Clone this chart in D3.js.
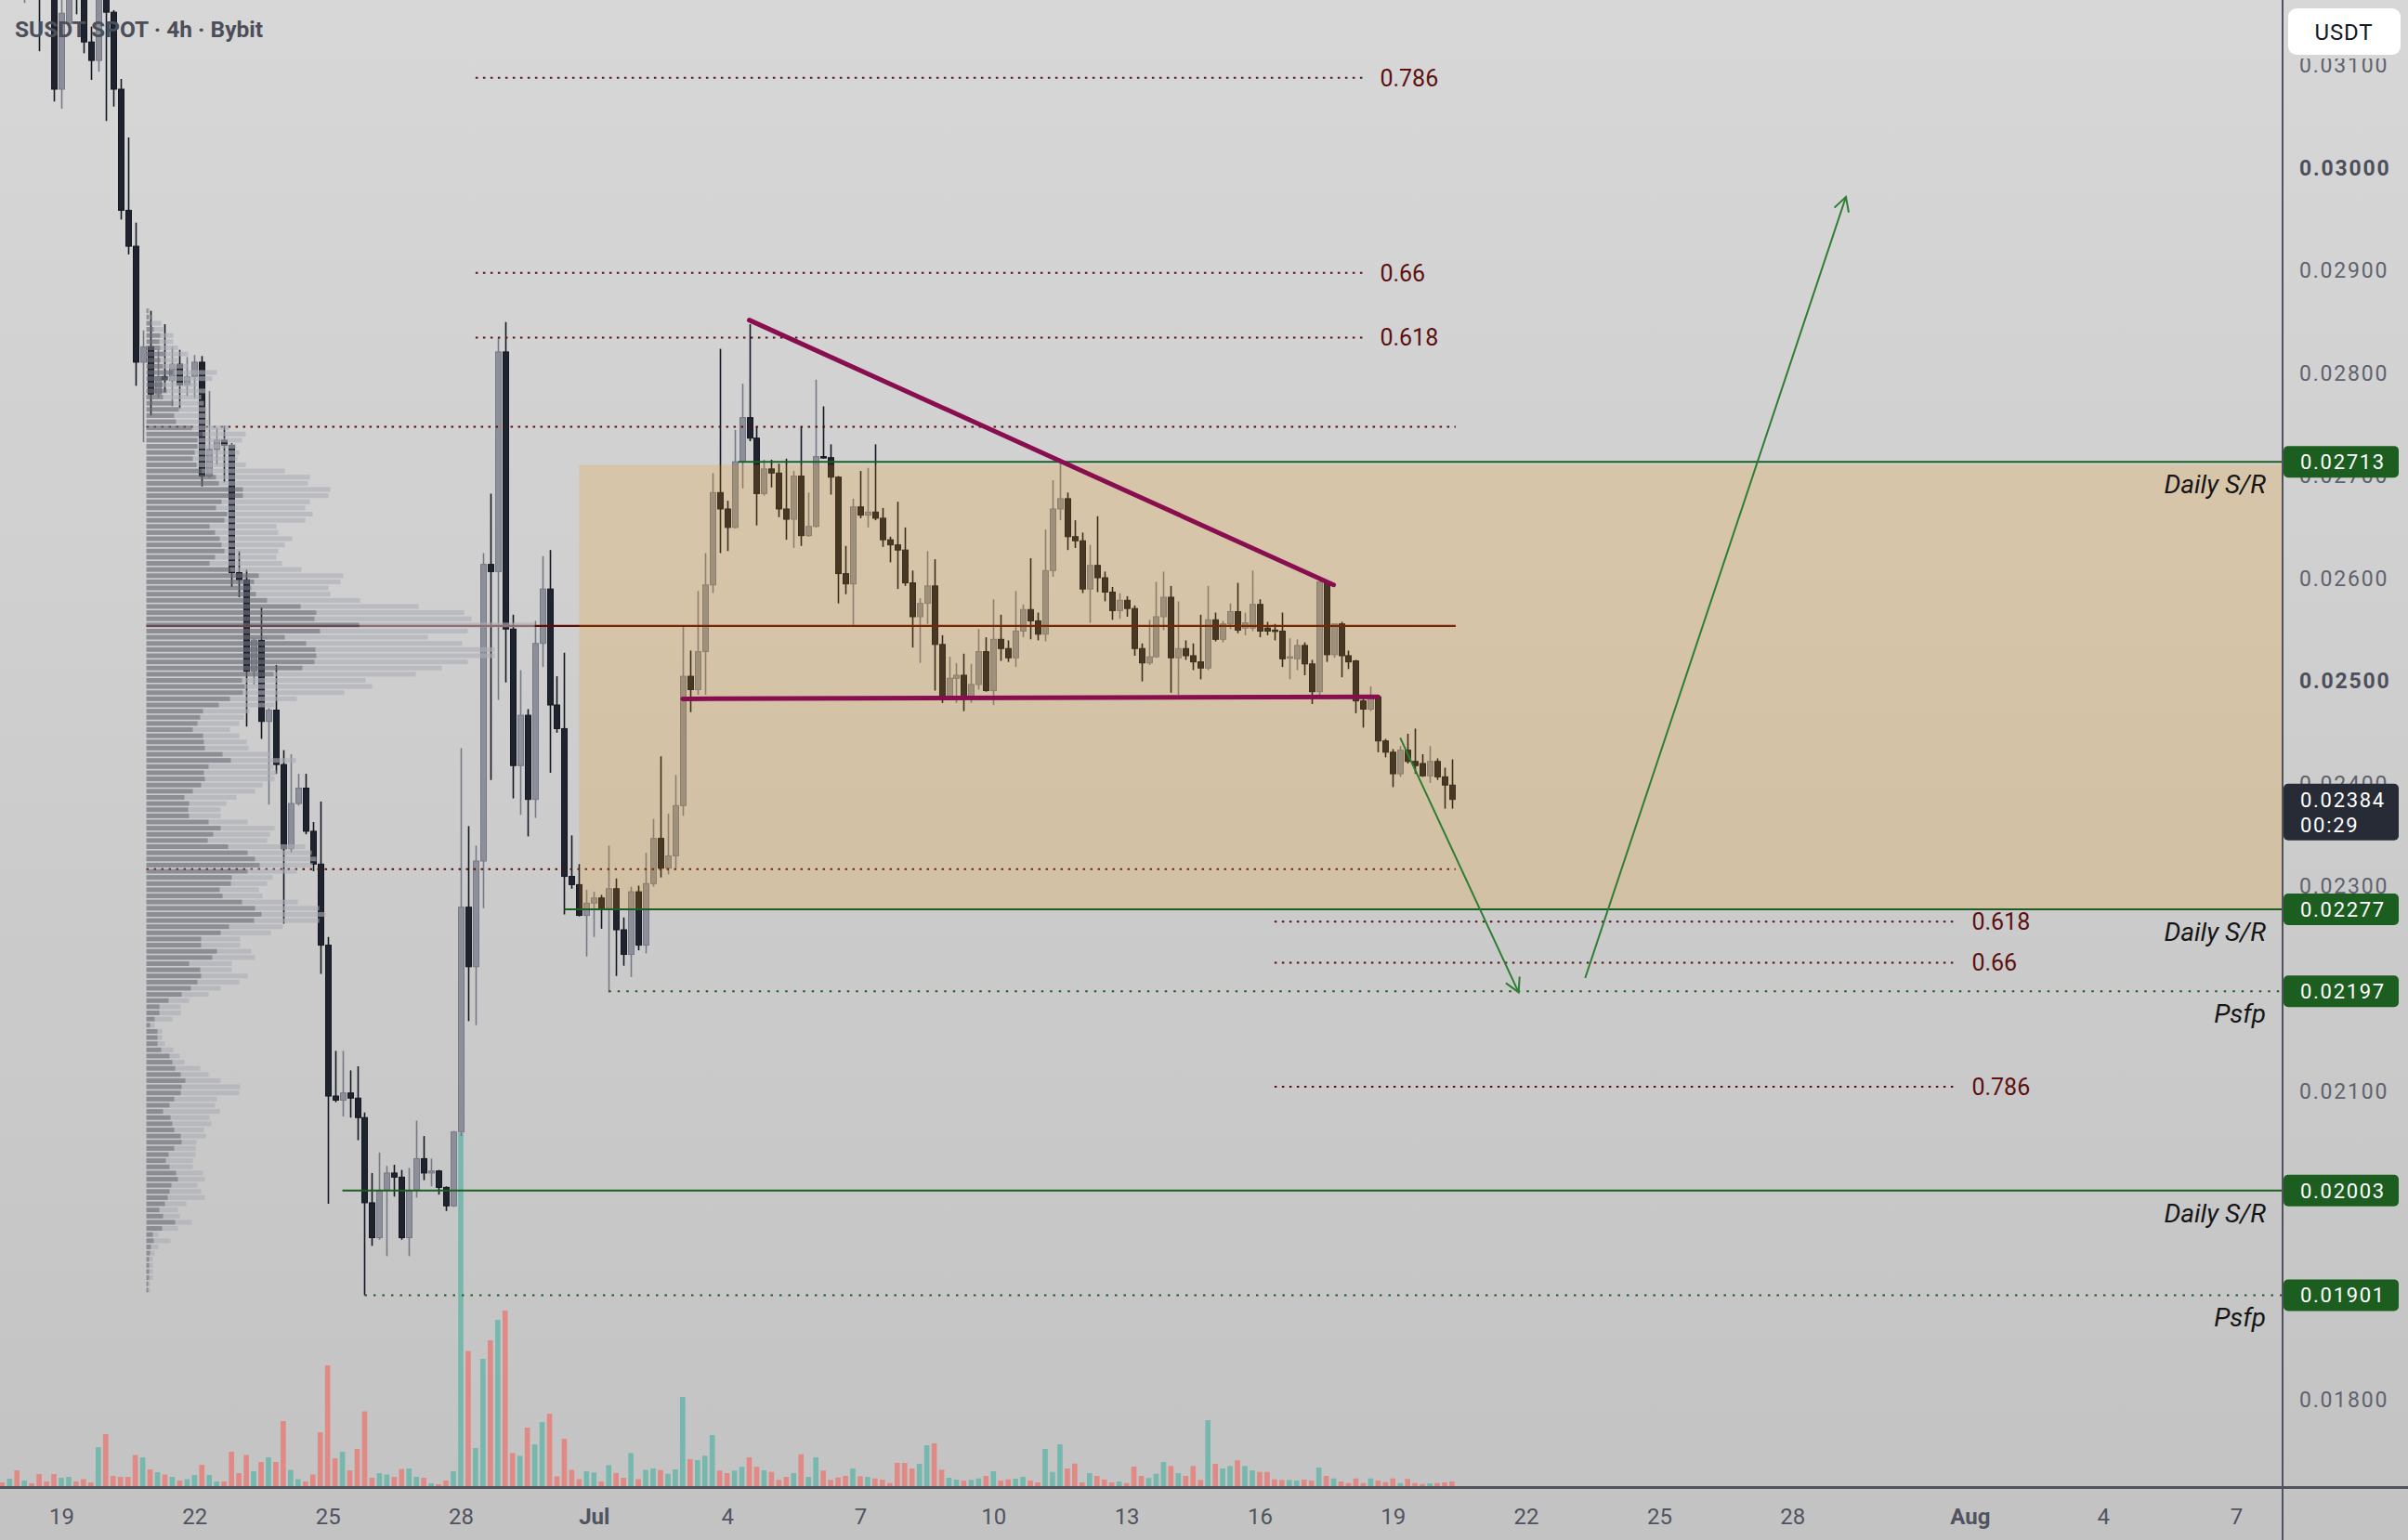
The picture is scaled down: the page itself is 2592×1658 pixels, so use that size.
<!DOCTYPE html>
<html>
<head>
<meta charset="utf-8">
<title>SUSDT SPOT · 4h · Bybit</title>
<script src="https://cdn.jsdelivr.net/npm/d3@7/dist/d3.min.js"></script>
<style>
  html, body { margin: 0; padding: 0; background: #cfcfcf; overflow: hidden; }
  svg { display: block; font-family: Roboto, "DejaVu Sans", sans-serif; }
</style>
</head>
<body>
<div id="chart"></div>
<script>
// ---------------- data ----------------
const firstBar = Date.UTC(2025, 5, 17, 16);   // first 4h bar (above the visible range)
const barMs = 4 * 3600 * 1000;

// open, high, low, close in 0.00001 USDT
const candles = [
  [3300,3310,3250,3265],[3265,3290,3255,3280],[3280,3285,3170,3180],
  [3180,3230,3160,3215],[3215,3240,3185,3195],[3195,3205,3113,3180],[3180,3190,3170,3172],
  [3172,3185,3064,3076],[3076,3170,3057,3150],[3140,3195,3136,3180],[3180,3190,3149,3168],
  [3168,3175,3111,3122],[3122,3137,3085,3104],[3104,3172,3093,3165],[3165,3168,3045,3151],
  [3151,3153,3059,3076],[3076,3086,2949,2958],[2958,3029,2915,2923],[2923,2946,2787,2810],
  [2810,2841,2732,2825],[2825,2860,2758,2779],[2779,2822,2775,2796],[2796,2847,2781,2793],
  [2792,2825,2767,2808],[2808,2822,2765,2788],[2788,2815,2777,2796],[2796,2817,2775,2810],
  [2810,2816,2689,2699],[2699,2782,2697,2725],[2725,2746,2710,2734],[2734,2748,2693,2729],
  [2729,2731,2591,2605],[2605,2626,2581,2598],[2598,2608,2455,2509],[2509,2541,2496,2539],
  [2539,2571,2443,2460],[2460,2473,2379,2471],[2471,2515,2409,2418],[2418,2432,2263,2336],
  [2336,2428,2332,2380],[2380,2409,2378,2395],[2395,2409,2350,2353],[2353,2362,2314,2321],
  [2321,2382,2214,2242],[2242,2250,1990,2095],[2095,2139,2089,2091],[2091,2139,2075,2098],
  [2098,2120,2074,2093],[2093,2124,2052,2074],[2074,2079,1901,1991],[1991,2020,1949,1957],
  [1957,2040,1955,2003],[2003,2027,1939,2020],[2020,2028,1997,2016],[2016,2023,1955,1957],
  [1957,2025,1939,2003],[2003,2071,1996,2034],[2034,2056,2013,2020],[2020,2034,2007,2022],
  [2022,2023,1999,2006],[2006,2007,1983,1988],[1988,2061,1987,2060],[2060,2434,2056,2279],
  [2279,2358,2168,2221],[2221,2339,2164,2324],[2324,2624,2278,2613],[2613,2682,2403,2606],
  [2606,2834,2481,2820],[2820,2849,2498,2550],[2550,2564,2385,2417],[2417,2510,2369,2466],
  [2466,2472,2348,2384],[2384,2558,2366,2536],[2536,2621,2513,2589],[2589,2627,2410,2476],
  [2476,2504,2449,2453],[2453,2527,2272,2309],[2309,2349,2297,2301],[2301,2321,2270,2271],
  [2271,2296,2231,2283],[2283,2294,2250,2288],[2288,2291,2258,2278],[2278,2339,2196,2297],
  [2297,2307,2212,2257],[2257,2269,2222,2233],[2233,2299,2211,2294],[2294,2300,2237,2242],
  [2242,2332,2234,2302],[2302,2365,2299,2346],[2346,2426,2308,2317],[2317,2370,2311,2329],
  [2329,2408,2317,2378],[2378,2552,2368,2504],[2504,2529,2469,2491],[2491,2587,2486,2528],
  [2528,2624,2486,2593],[2593,2702,2585,2683],[2683,2823,2624,2667],[2667,2675,2626,2649],
  [2649,2744,2648,2713],[2713,2789,2687,2756],[2756,2847,2733,2736],[2736,2747,2651,2682],
  [2682,2715,2680,2706],[2706,2715,2688,2702],[2702,2711,2659,2667],[2667,2716,2637,2657],
  [2657,2704,2629,2699],[2699,2747,2631,2641],[2641,2683,2640,2650],[2650,2793,2649,2718],
  [2718,2767,2716,2717],[2717,2730,2681,2698],[2698,2699,2575,2604],[2604,2631,2584,2594],
  [2594,2677,2554,2669],[2669,2704,2658,2661],[2661,2707,2649,2664],[2664,2730,2656,2658],
  [2658,2668,2630,2637],[2637,2640,2615,2632],[2632,2674,2589,2627],[2627,2649,2592,2595],
  [2595,2607,2532,2562],[2562,2580,2517,2575],[2575,2626,2555,2592],[2592,2618,2490,2535],
  [2535,2544,2478,2485],[2485,2523,2482,2502],[2502,2517,2478,2505],[2505,2526,2470,2483],
  [2483,2516,2478,2496],[2496,2550,2491,2528],[2528,2542,2489,2490],[2490,2579,2476,2540],
  [2540,2564,2519,2531],[2531,2539,2518,2522],[2522,2587,2513,2548],[2548,2574,2542,2569],
  [2569,2619,2540,2558],[2558,2566,2539,2545],[2545,2647,2538,2607],[2607,2695,2601,2667],
  [2667,2714,2656,2677],[2677,2683,2627,2640],[2640,2656,2629,2636],[2636,2644,2585,2589],
  [2589,2632,2556,2612],[2612,2660,2586,2600],[2600,2606,2577,2586],[2586,2591,2559,2568],
  [2568,2585,2560,2578],[2578,2582,2562,2570],[2570,2573,2524,2531],[2531,2536,2499,2517],
  [2517,2559,2515,2523],[2523,2596,2522,2562],[2562,2606,2549,2581],[2581,2592,2488,2522],
  [2522,2577,2486,2531],[2531,2539,2520,2524],[2524,2536,2510,2518],[2518,2564,2501,2512],
  [2512,2592,2510,2559],[2559,2566,2538,2540],[2540,2558,2537,2555],[2555,2575,2550,2567],
  [2567,2595,2546,2549],[2551,2566,2544,2556],[2551,2607,2548,2574],[2574,2579,2542,2548],
  [2551,2557,2544,2548],[2549,2555,2539,2548],[2548,2566,2513,2521],[2522,2541,2501,2523],
  [2521,2540,2510,2534],[2534,2537,2505,2516],[2516,2520,2477,2489],[2489,2597,2486,2596],
  [2596,2597,2518,2525],[2525,2555,2522,2555],[2555,2557,2503,2524],[2524,2529,2511,2518],
  [2519,2520,2468,2480],[2480,2485,2454,2472],[2472,2494,2470,2484],[2484,2485,2430,2441],
  [2441,2443,2425,2430],[2430,2433,2396,2409],[2409,2436,2406,2432],[2432,2448,2419,2421],
  [2421,2453,2409,2417],[2419,2428,2406,2407],[2407,2436,2400,2421],[2421,2424,2403,2406],
  [2406,2415,2375,2398],[2398,2423,2375,2384]
];

// volume per bar (relative units)
const volumes = [
  5,9,18,7,4,14,6,14,10,11,6,8.5,5,43,57,12,11,11,34.5,32,19,16,13.5,11,7,8.5,13,24,13,6,
  6,38,15,34.5,17,27,32,27,71,18.5,8.5,6,13.5,59,131,31,38,18,41,81.5,10,15,13.5,11,19.4,20,11,10,4,3,
  7,17,381,146.5,42,138,158,180,190,36.6,33.6,64,46,70,79,11.5,52,18.5,8.5,16.9,15.7,6,23.6,15.2,10,36.6,8.5,18.5,
  20,18.3,14.3,19,97,30,29,33.7,56,17.7,15,17.7,21.7,32,21.7,18,16.3,7.7,11,15,
  35.3,11,32,17.7,7.7,10.3,12,20,11.7,11,9.3,8,4.3,26,26,20,25,45,47,18.7,
  10,8,7,7.7,9.3,12,17,7,8.3,9,11,7,5,41,16.3,46,20,25.3,5,15,
  12,8,5,6,4.3,22,12,9.7,14.3,27,22.7,15,12,22.7,7.7,72,25,20,22.7,28.7,
  22.7,18,16.3,16.3,8.3,7.7,7.7,7,8,7,21,12,9.3,6,4.3,9.3,4.3,9.3,7,5.3,
  9.3,4.3,8.7,4.3,3.3,4,4.3,5,6
];

// visible-range volume profile, rows from top price downward
const profileTop = 0.02860;
const profileStep = 0.00006;
const profileStart = Date.UTC(2025, 5, 20, 22);
const profileTotal = [
  4,5,16,19,29,29,34,45,34,45, 76,71,55,64,59,62,65,65,67,89,
  107,103,97,100,98,107,149,176,174,198, 196,176,171,179,171,140,142,157,149,142,
  140,146,167,212,209,196,198,230,293,342, 350,418,346,303,340,375,375,346,318,290,
  236,243,213,162,138,111,105,100,90,100, 108,110,134,161,137,140,138,125,117,97,
  86,80,80,109,138,133,130,171,178,183, 179,162,136,130,121,125,163,186,193,186,
  147,134,101,101,113,117,92,92,109,100, 80,67,46,37,37,28,9,17,17,20,
  29,36,41,58,67,80,101,100,76,74, 79,68,70,62,64,54,53,53,50,50,
  61,63,55,59,63,43,34,36,49,34, 13,26,13,9,7,7,7,7,4,4
];
const profileUp = [
  2,3,5,8,15,14,15,19,15,18, 29,22,18,22,18,29,35,30,32,49,
  60,55,55,52,50,54,59,75,78,104, 104,81,75,87,84,68,74,79,81,84,
  74,68,90,121,116,113,118,130,166,183, 181,229,187,149,172,182,183,181,168,137,
  103,106,104,90,78,61,58,55,50,61, 62,63,82,91,67,62,63,59,50,41,
  46,45,46,67,80,72,66,88,109,117, 122,109,92,91,79,82,103,117,124,116,
  89,80,59,59,76,71,46,58,59,55, 48,38,24,14,14,9,4,12,12,12,
  16,25,28,31,37,42,38,37,30,25, 18,26,28,30,37,38,30,24,21,25,
  32,34,27,25,23,20,14,18,31,17, 7,8,5,4,3,3,3,3,2,2
];
const pocPrice = 0.02553, vahPrice = 0.02747, valPrice = 0.02316;
const profileEnd = Date.UTC(2025, 6, 20, 10);

// support / resistance levels
const srPrices = [0.02713, 0.02277, 0.02197, 0.02003, 0.01901];
const srLabels = ["Daily S/R", "Daily S/R", "Psfp", "Daily S/R", "Psfp"];
const srStarts = [Date.UTC(2025,6,4,6), Date.UTC(2025,5,30,8), Date.UTC(2025,6,1,8),
                  Date.UTC(2025,5,25,8), Date.UTC(2025,5,25,20)];

// fib extensions
const fibUpLevels = ["0.786", "0.66", "0.618"];
const fibUpPrices = [0.03087, 0.02897, 0.02834];
const fibUpRange = [Date.UTC(2025,5,28,8), Date.UTC(2025,6,18,8)];
const fibDnLevels = ["0.618", "0.66", "0.786"];
const fibDnPrices = [0.02265, 0.02225, 0.02104];
const fibDnRange = [Date.UTC(2025,6,16,8), Date.UTC(2025,6,31,16)];

// range box
const zone = { from: Date.UTC(2025,5,30,16), top: 0.02710, bottom: 0.02277 };

// drawings
const trendLines = [
  [[Date.UTC(2025,6,4,12), 0.02851], [Date.UTC(2025,6,17,16), 0.02593]],
  [[Date.UTC(2025,6,3,0), 0.02482], [Date.UTC(2025,6,18,16), 0.02484]]
];
const arrows = [
  [[Date.UTC(2025,6,19,4), 0.02444], [Date.UTC(2025,6,21,20), 0.02196]],
  [[Date.UTC(2025,6,23,8), 0.02210], [Date.UTC(2025,6,29,5), 0.02971]]
];

// ticks that are not hidden behind a price tag
const priceTicks = [0.031,0.030,0.029,0.028,0.027,0.026,0.025,0.024,0.023,0.021,0.018];
const boldTicks = [0.030, 0.025];
const dateTicks = [Date.UTC(2025,5,19),Date.UTC(2025,5,22),Date.UTC(2025,5,25),Date.UTC(2025,5,28),
  Date.UTC(2025,6,1),Date.UTC(2025,6,4),Date.UTC(2025,6,7),Date.UTC(2025,6,10),Date.UTC(2025,6,13),
  Date.UTC(2025,6,16),Date.UTC(2025,6,19),Date.UTC(2025,6,22),Date.UTC(2025,6,25),Date.UTC(2025,6,28),
  Date.UTC(2025,7,1),Date.UTC(2025,7,4),Date.UTC(2025,7,7)];
const dateLabels = ["19","22","25","28","Jul","4","7","10","13","16","19","22","25","28","Aug","4","7"];
const lastPrice = 0.02384, countdown = "00:29";

// ---------------- chart ----------------
const W = 2592, H = 1658;
const plotR = 2457, plotB = 1601;

const x = d3.scaleUtc().domain([Date.UTC(2025,5,19), Date.UTC(2025,7,7)]).range([66, 2407]);
const y = d3.scaleLinear().domain([0.018, 0.030]).range([1506, 180]);
const yVol = d3.scaleLinear().domain([0, 400]).range([plotB, plotB - 400]);
const wProf = d3.scaleLinear().domain([0, 418]).range([0, 418]);
const P = v => v / 1e5;
const barTime = i => firstBar + i * barMs;

const svg = d3.select("#chart").append("svg").attr("width", W).attr("height", H);

const defs = svg.append("defs");
const grad = defs.append("linearGradient").attr("id", "bg").attr("gradientUnits", "userSpaceOnUse")
  .attr("x1", 0).attr("y1", 0).attr("x2", 0).attr("y2", H);
grad.append("stop").attr("offset", "0%").attr("stop-color", "#d7d7d7");
grad.append("stop").attr("offset", "100%").attr("stop-color", "#c3c3c3");
defs.append("clipPath").attr("id", "plot").append("rect").attr("width", plotR).attr("height", plotB);

svg.append("rect").attr("width", W).attr("height", H).attr("fill", "url(#bg)");

const plot = svg.append("g").attr("clip-path", "url(#plot)");

// volume
const upCol = "#76b8ae", dnCol = "#e08985";
plot.append("g").selectAll("rect").data(volumes).join("rect")
  .attr("x", (d, i) => x(barTime(i)) - 2.8)
  .attr("width", 5.6)
  .attr("y", d => yVol(d))
  .attr("height", d => plotB - yVol(d))
  .attr("fill", (d, i) => candles[i][3] >= candles[i][0] ? upCol : dnCol);

// candles
const cg = plot.append("g");
candles.forEach((c, i) => {
  const [o, h, l, cl] = c.map(P);
  const cx = Math.round(x(barTime(i))) + 0.5;
  const up = cl >= o;
  const stroke = up ? "#777a85" : "#141822";
  const fill = up ? "#8c8f99" : "#1f232e";
  cg.append("line").attr("x1", cx).attr("x2", cx).attr("y1", y(h)).attr("y2", y(l))
    .attr("stroke", stroke).attr("stroke-width", 1.6);
  const top = y(Math.max(o, cl)), bot = y(Math.min(o, cl));
  cg.append("rect").attr("x", cx - 3).attr("width", 6)
    .attr("y", top).attr("height", Math.max(1.5, bot - top))
    .attr("fill", fill).attr("stroke", stroke).attr("stroke-width", 1);
});

// profile lines (POC / value area)
const pX0 = x(profileStart), pX1 = x(profileEnd);
plot.append("line").attr("x1", pX0).attr("x2", pX1).attr("y1", y(pocPrice)).attr("y2", y(pocPrice))
  .attr("stroke", "#5e0d06").attr("stroke-width", 2.2);
[vahPrice, valPrice].forEach(p => {
  plot.append("line").attr("x1", pX0).attr("x2", pX1).attr("y1", y(p)).attr("y2", y(p))
    .attr("stroke", "#5a0c0c").attr("stroke-width", 2).attr("stroke-dasharray", "2.5,5.5");
});

// volume profile rows
const pg = plot.append("g");
profileTotal.forEach((v, i) => {
  const yc = y(profileTop - i * profileStep);
  pg.append("rect").attr("x", pX0 + wProf(profileUp[i])).attr("y", yc - 2.5)
    .attr("width", wProf(v) - wProf(profileUp[i])).attr("height", 5)
    .attr("fill", "rgba(172,174,182,0.62)");
  pg.append("rect").attr("x", pX0).attr("y", yc - 2.5)
    .attr("width", wProf(profileUp[i])).attr("height", 5)
    .attr("fill", "rgba(108,110,120,0.66)");
});

// range box
plot.append("rect").attr("x", x(zone.from)).attr("y", y(zone.top))
  .attr("width", plotR - x(zone.from)).attr("height", y(zone.bottom) - y(zone.top))
  .attr("fill", "rgba(245,150,0,0.19)");

// fib lines
const fibCol = "#5c1010";
function fibSet(levels, prices, range) {
  prices.forEach((p, i) => {
    plot.append("line").attr("x1", x(range[0])).attr("x2", x(range[1]))
      .attr("y1", y(p)).attr("y2", y(p))
      .attr("stroke", fibCol).attr("stroke-width", 2).attr("stroke-dasharray", "2.5,5.5");
    plot.append("text").attr("x", x(range[1]) + 18).attr("y", y(p)).attr("dy", "0.36em")
      .attr("font-size", 25).attr("fill", fibCol).text(levels[i]);
  });
}
fibSet(fibUpLevels, fibUpPrices, fibUpRange);
fibSet(fibDnLevels, fibDnPrices, fibDnRange);

// S/R levels
const green = "#1b5e20";
srPrices.forEach((p, i) => {
  const dotted = srLabels[i] === "Psfp";
  plot.append("line").attr("x1", x(srStarts[i])).attr("x2", plotR)
    .attr("y1", y(p)).attr("y2", y(p))
    .attr("stroke", green).attr("stroke-width", 2)
    .attr("stroke-dasharray", dotted ? "2.5,7" : null);
  plot.append("text").attr("x", plotR - 18).attr("y", y(p) + 34)
    .attr("text-anchor", "end").attr("font-size", 28).attr("font-style", "italic")
    .attr("fill", "#161616").text(srLabels[i]);
});

// trend lines
trendLines.forEach(seg => {
  plot.append("line")
    .attr("x1", x(seg[0][0])).attr("y1", y(seg[0][1]))
    .attr("x2", x(seg[1][0])).attr("y2", y(seg[1][1]))
    .attr("stroke", "#880e4f").attr("stroke-width", 5).attr("stroke-linecap", "round");
});

// arrows
arrows.forEach(seg => {
  const x1 = x(seg[0][0]), y1 = y(seg[0][1]), x2 = x(seg[1][0]), y2 = y(seg[1][1]);
  plot.append("line").attr("x1", x1).attr("y1", y1).attr("x2", x2).attr("y2", y2)
    .attr("stroke", "#2e7d32").attr("stroke-width", 2);
  const a = Math.atan2(y2 - y1, x2 - x1), L = 17, s = 0.5;
  plot.append("path")
    .attr("d", `M${x2 - L * Math.cos(a - s)},${y2 - L * Math.sin(a - s)}L${x2},${y2}L${x2 - L * Math.cos(a + s)},${y2 - L * Math.sin(a + s)}`)
    .attr("fill", "none").attr("stroke", "#2e7d32").attr("stroke-width", 2);
});

// title
svg.append("text").attr("x", 16).attr("y", 40).attr("font-size", 24.5).attr("font-weight", 700)
  .attr("fill", "#4c4f59").text("SUSDT SPOT · 4h · Bybit");

// price axis
const yAxis = svg.append("g").attr("transform", `translate(${plotR},0)`)
  .call(d3.axisRight(y).tickValues(priceTicks).tickFormat(d3.format(".5f")).tickSize(0));
yAxis.select(".domain").remove();
yAxis.selectAll("text").attr("x", 18).attr("dy", "0.36em")
  .attr("font-family", "Roboto").attr("font-size", 23).attr("letter-spacing", 1.8)
  .attr("fill", d => boldTicks.includes(d) ? "#4d505b" : "#5f636e")
  .attr("font-weight", d => boldTicks.includes(d) ? 700 : 400);

// time axis
const xAxis = svg.append("g").attr("transform", `translate(0,${plotB})`)
  .call(d3.axisBottom(x).tickValues(dateTicks).tickFormat((d, i) => dateLabels[i]).tickSize(0));
xAxis.select(".domain").remove();
xAxis.selectAll("text").attr("y", 40).attr("dy", 0)
  .attr("font-family", "Roboto").attr("font-size", 24)
  .attr("fill", "#50545f")
  .attr("font-weight", (d, i) => isNaN(+dateLabels[i]) ? 700 : 400);

// axis borders
svg.append("line").attr("x1", 0).attr("x2", W).attr("y1", plotB + 0.5).attr("y2", plotB + 0.5)
  .attr("stroke", "#50535e").attr("stroke-width", 3);
svg.append("line").attr("x1", plotR).attr("x2", plotR).attr("y1", 0).attr("y2", H)
  .attr("stroke", "#50535e").attr("stroke-width", 2);

// price labels
function priceTag(p, fill, lines) {
  const h = lines.length === 1 ? 34 : 61;
  const top = y(p) - 17;
  svg.append("rect").attr("x", plotR + 1).attr("y", top).attr("width", 124).attr("height", h)
    .attr("rx", 5).attr("fill", fill);
  lines.forEach((t, k) => {
    svg.append("text").attr("x", plotR + 19).attr("y", top + 17 + k * 27).attr("dy", "0.36em")
      .attr("font-family", "Roboto").attr("font-size", 22).attr("letter-spacing", 1.7)
      .attr("fill", "#ffffff").text(t);
  });
}
srPrices.forEach(p => priceTag(p, green, [d3.format(".5f")(p)]));
priceTag(lastPrice, "#272b36", [d3.format(".5f")(lastPrice), countdown]);

// currency button (header strip hides the top of the first tick)
svg.append("rect").attr("x", plotR + 1).attr("y", 0).attr("width", W - plotR - 1).attr("height", 63)
  .attr("fill", "url(#bg)");
svg.append("rect").attr("x", 2463).attr("y", 9).attr("width", 121).attr("height", 50)
  .attr("rx", 9).attr("fill", "#ffffff");
svg.append("text").attr("x", 2523).attr("y", 34).attr("dy", "0.36em").attr("text-anchor", "middle")
  .attr("font-family", "Roboto").attr("font-size", 24).attr("letter-spacing", 0.8)
  .attr("fill", "#131722").text("USDT");
</script>
</body>
</html>
